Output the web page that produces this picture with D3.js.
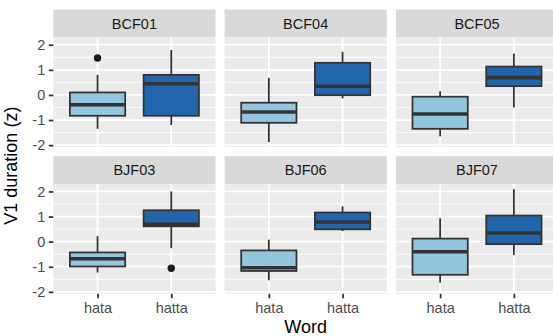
<!DOCTYPE html>
<html>
<head>
<meta charset="utf-8">
<script src="https://cdn.jsdelivr.net/npm/d3@7"></script>
<style>
  html, body { margin: 0; padding: 0; background: #fff; }
  svg { display: block; font-family: "Liberation Sans", Arial, sans-serif; }
</style>
</head>
<body>
<svg id="chart" width="553" height="336"></svg>
<script>
// Speakers (facets) and word categories
const speakers = ["BCF01", "BCF04", "BCF05", "BJF03", "BJF06", "BJF07"];
const words = ["hata", "hatta"];

// Box-plot summaries per speaker, one value per word [hata, hatta]
const whiskerLow  = [[-1.35, -1.20], [-1.88, -0.14], [-1.65, -0.50], [-1.23, -0.26], [-1.54, 0.42], [-1.63, -0.54]];
const q1          = [[-0.83, -0.83], [-1.11, -0.01], [-1.35,  0.35], [-0.99,  0.61], [-1.17, 0.49], [-1.32, -0.10]];
const median      = [[-0.39,  0.45], [-0.68,  0.35], [-0.76,  0.69], [-0.68,  0.69], [-1.04, 0.78], [-0.40,  0.34]];
const q3          = [[ 0.10,  0.80], [-0.31,  1.28], [-0.07,  1.13], [-0.43,  1.25], [-0.35, 1.16], [ 0.12,  1.04]];
const whiskerHigh = [[ 0.80,  1.79], [ 0.68,  1.72], [ 0.15,  1.65], [ 0.22,  2.00], [ 0.08, 1.41], [ 0.93,  2.09]];

// Outlying observations: speaker, word, value
const outlierSpeaker = ["BCF01", "BJF03"];
const outlierWord = ["hata", "hatta"];
const outlierValue = [1.47, -1.06];

const yTicks = [-2, -1, 0, 1, 2];
const yMinor = [-1.5, -0.5, 0.5, 1.5];
const fillColors = ["#92c5de", "#2166ac"];

// ---- layout ----
const svg = d3.select("#chart");
const marginLeft = 53.3, marginTop = 9.5;
const panelW = 162.2, panelH = 109.6, stripH = 28, gap = 9.1;
const nCols = 3;

// shared y scale with 5% expansion of the data range
const allVals = whiskerLow.flat().concat(whiskerHigh.flat(), outlierValue);
const dMin = d3.min(allVals), dMax = d3.max(allVals);
const pad = (dMax - dMin) * 0.05;
const y = d3.scaleLinear().domain([dMin - pad, dMax + pad]).range([panelH, 0]);

const x = d3.scalePoint().domain(words).range([0, panelW]).padding(0.6);
const boxW = x.step() * 0.75;
const color = d3.scaleOrdinal().domain(words).range(fillColors);

const lw = 1.76;
const outline = "#333333";

speakers.forEach((sp, i) => {
  const col = i % nCols, row = Math.floor(i / nCols);
  const px = marginLeft + col * (panelW + gap);
  const sy = marginTop + row * (stripH + panelH + gap);
  const py = sy + stripH;

  // strip
  const strip = svg.append("g").attr("transform", `translate(${px},${sy})`);
  strip.append("rect").attr("width", panelW).attr("height", stripH).attr("fill", "#d9d9d9");
  strip.append("text")
    .attr("x", panelW / 2).attr("y", stripH / 2).attr("dy", "0.36em")
    .attr("text-anchor", "middle").attr("font-size", 14.5).attr("fill", "#1a1a1a")
    .text(sp);

  const g = svg.append("g").attr("transform", `translate(${px},${py})`);
  g.append("rect").attr("width", panelW).attr("height", panelH).attr("fill", "#ebebeb");

  // grid
  g.selectAll(".minor").data(yMinor).join("line")
    .attr("x1", 0).attr("x2", panelW)
    .attr("y1", d => y(d)).attr("y2", d => y(d))
    .attr("stroke", "#fff").attr("stroke-width", lw / 2);
  g.selectAll(".major").data(yTicks).join("line")
    .attr("x1", 0).attr("x2", panelW)
    .attr("y1", d => y(d)).attr("y2", d => y(d))
    .attr("stroke", "#fff").attr("stroke-width", lw);
  g.selectAll(".vmajor").data(words).join("line")
    .attr("x1", d => x(d)).attr("x2", d => x(d))
    .attr("y1", 0).attr("y2", panelH)
    .attr("stroke", "#fff").attr("stroke-width", lw);

  // boxes
  words.forEach((w, j) => {
    const cx = x(w);
    const b = g.append("g");
    b.append("line")
      .attr("x1", cx).attr("x2", cx)
      .attr("y1", y(whiskerHigh[i][j])).attr("y2", y(q3[i][j]))
      .attr("stroke", outline).attr("stroke-width", lw);
    b.append("line")
      .attr("x1", cx).attr("x2", cx)
      .attr("y1", y(q1[i][j])).attr("y2", y(whiskerLow[i][j]))
      .attr("stroke", outline).attr("stroke-width", lw);
    b.append("rect")
      .attr("x", cx - boxW / 2).attr("width", boxW)
      .attr("y", y(q3[i][j])).attr("height", y(q1[i][j]) - y(q3[i][j]))
      .attr("fill", color(w)).attr("stroke", outline).attr("stroke-width", lw);
    b.append("line")
      .attr("x1", cx - boxW / 2).attr("x2", cx + boxW / 2)
      .attr("y1", y(median[i][j])).attr("y2", y(median[i][j]))
      .attr("stroke", outline).attr("stroke-width", lw * 2);
  });

  // outliers
  outlierValue.forEach((v, k) => {
    if (outlierSpeaker[k] !== sp) return;
    g.append("circle")
      .attr("cx", x(outlierWord[k])).attr("cy", y(v)).attr("r", 3.7)
      .attr("fill", "#1a1a1a");
  });

  // y axis on the first column
  if (col === 0) {
    const ax = g.append("g").call(d3.axisLeft(y).tickValues(yTicks).tickSize(4.5).tickPadding(3.6).tickFormat(d3.format("d")));
    ax.select(".domain").remove();
    ax.selectAll("line").attr("stroke", "#333333").attr("stroke-width", lw);
    ax.selectAll("text").attr("font-size", 14.5).attr("fill", "#4d4d4d")
      .attr("font-family", "Liberation Sans, Arial, sans-serif")
      .text(d => d < 0 ? "-" + Math.abs(d) : d);
  }
  // x axis on the bottom row
  if (row === 1) {
    const ax = g.append("g").attr("transform", `translate(0,${panelH})`)
      .call(d3.axisBottom(x).tickSize(4.5).tickPadding(4.8));
    ax.select(".domain").remove();
    ax.selectAll("line").attr("stroke", "#333333").attr("stroke-width", lw);
    ax.selectAll("text").attr("font-size", 14.5).attr("fill", "#4d4d4d")
      .attr("font-family", "Liberation Sans, Arial, sans-serif");
  }
});

// axis titles, centred on the panel area
const panelsTop = marginTop + stripH;
const plotBottom = marginTop + 2 * (stripH + panelH) + gap;
svg.append("text")
  .attr("x", marginLeft + (3 * panelW + 2 * gap) / 2).attr("y", 333)
  .attr("text-anchor", "middle").attr("font-size", 18).attr("fill", "#000")
  .text("Word");
svg.append("text")
  .attr("transform", `translate(16.5,${(panelsTop + plotBottom) / 2}) rotate(-90)`)
  .attr("text-anchor", "middle").attr("font-size", 18).attr("fill", "#000")
  .text("V1 duration (z)");
</script>
</body>
</html>
